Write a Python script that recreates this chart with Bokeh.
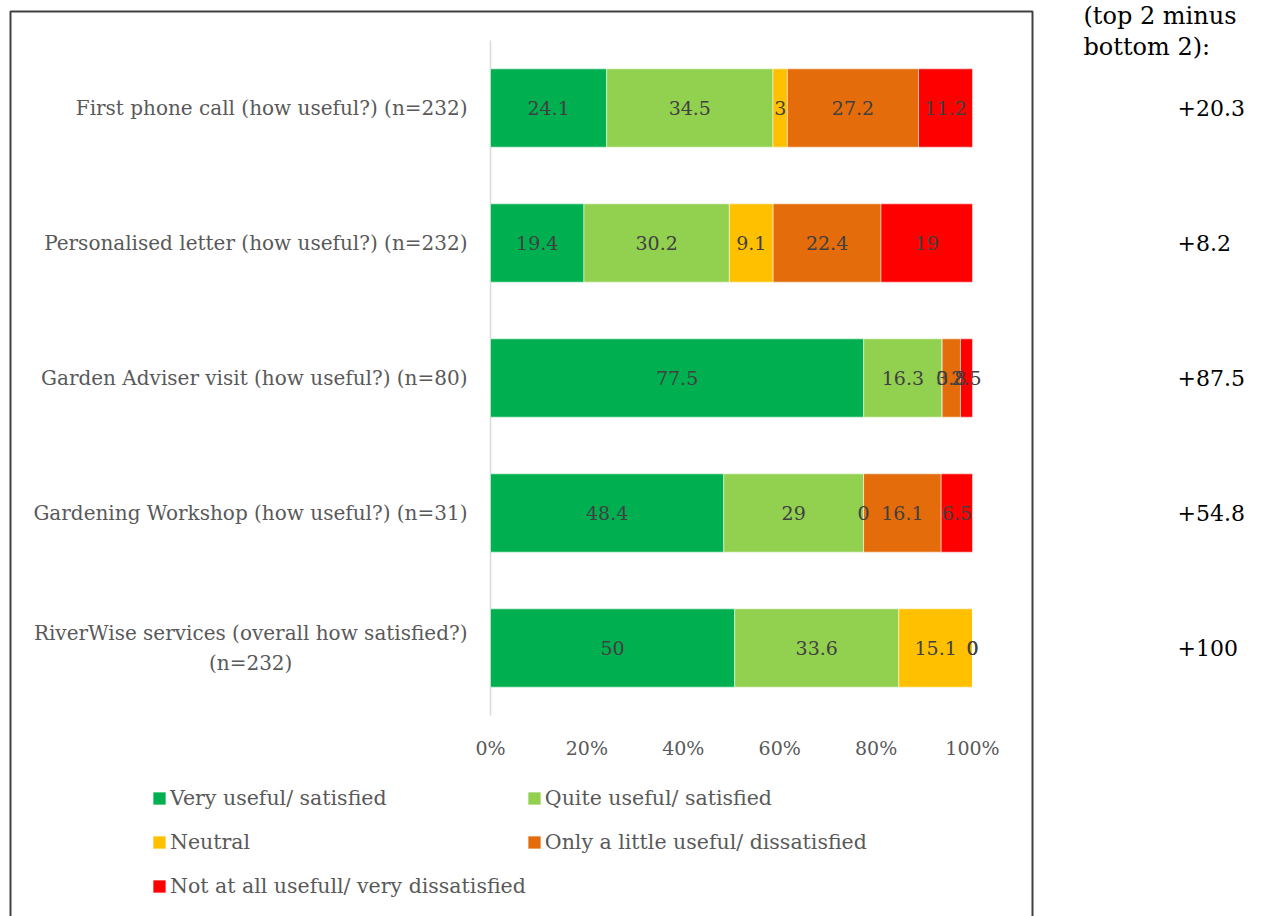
from bokeh.plotting import figure
from bokeh.models import (ColumnDataSource, Range1d, Legend, LegendItem, BoxAnnotation)
from bokeh.core.properties import value
from bokeh.embed import file_html
from bokeh.resources import INLINE

categories = [
    "First phone call (how useful?) (n=232)",
    "Personalised letter (how useful?) (n=232)",
    "Garden Adviser visit (how useful?) (n=80)",
    "Gardening Workshop (how useful?) (n=31)",
    "RiverWise services (overall how satisfied?)\n(n=232)",
]
series_names = [
    "Very useful/ satisfied",
    "Quite useful/ satisfied",
    "Neutral",
    "Only a little useful/ dissatisfied",
    "Not at all usefull/ very dissatisfied",
]
very = [24.1, 19.4, 77.5, 48.4, 50]
quite = [34.5, 30.2, 16.3, 29, 33.6]
neutral = [3, 9.1, 0, 0, 15.1]
little = [27.2, 22.4, 3.8, 16.1, 0]
notatall = [11.2, 19, 2.5, 6.5, 0]
net_scores = ["+20.3", "+8.2", "+87.5", "+54.8", "+100"]
header_lines = ["(top 2 minus", "bottom 2):"]
tick_values = [0, 0.2, 0.4, 0.6, 0.8, 1.0]

colors = ["#00B050", "#92D050", "#FFC000", "#E46C0A", "#FF0000"]
FONT = "DejaVu Serif"
GRAY = "#595959"

W, H = 1282, 916
# pixel geometry of the plotting area inside the canvas
X0, X1 = 490, 972          # 0% and 100%
Y0, ROW = 40, 135          # top of plot area, row pitch


def dx(px):
    return (px - X0) / (X1 - X0)


def dy(py):
    return (py - Y0) / ROW


series = [very, quite, neutral, little, notatall]
n = len(categories)
ypos = [i + 0.5 for i in range(n)]
totals = [sum(s[i] for s in series) for i in range(n)]

data = {"y": ypos}
keys = ["s0", "s1", "s2", "s3", "s4"]
for k, s in zip(keys, series):
    data[k] = [v / t for v, t in zip(s, totals)]
source = ColumnDataSource(data)

p = figure(width=W, height=H, output_backend="svg", toolbar_location=None,
           x_range=Range1d(dx(0), dx(W)), y_range=Range1d(dy(H), dy(0)),
           min_border=0)
p.xaxis.visible = False
p.yaxis.visible = False
p.outline_line_color = None
p.xgrid.visible = False
p.ygrid.visible = False
p.background_fill_color = "white"
p.border_fill_color = "white"

# outer frame box
p.add_layout(BoxAnnotation(left=dx(10), right=dx(1032), top=dy(11), bottom=dy(H + 30),
                           fill_alpha=0, line_color="#404040", line_alpha=1.0,
                           line_width=2))

# category axis line
p.segment(x0=[0], y0=[0], x1=[0], y1=[n], line_color="#D9D9D9", line_width=1.5)

renderers = p.hbar_stack(keys, y="y", height=0.58, source=source, color=colors,
                         line_color="white", line_width=0.5)

# segment labels
lx, ly, lt = [], [], []
for i in range(n):
    left = 0.0
    for s in series:
        w = s[i] / totals[i]
        lx.append(left + w / 2)
        ly.append(ypos[i])
        lt.append("{:g}".format(s[i]))
        left += w
p.text(x=lx, y=ly, text=lt, text_align="center", text_baseline="middle",
       text_font=value(FONT), text_font_size="19px", text_color="#404040")

# category labels (left)
p.text(x=[dx(467)] * n, y=ypos, text=categories, anchor="center_right",
       text_align="center", text_baseline="middle", text_line_height=1.25,
       text_font=value(FONT), text_font_size="20px", text_color=GRAY)

# x tick labels
p.text(x=tick_values, y=[dy(747)] * len(tick_values),
       text=["{:.0%}".format(t) for t in tick_values],
       text_align="center", text_baseline="middle",
       text_font=value(FONT), text_font_size="19px", text_color=GRAY)

# legend (column-major order so rows read: Very/Quite, Neutral/Only, Not)
order = [0, 2, 4, 1, 3]
items = [LegendItem(label=series_names[j], renderers=[renderers[j]]) for j in order]
legend = Legend(items=items, ncols=2, location=(151, H - 908),
                glyph_width=16, glyph_height=16, label_height=44, spacing=0,
                label_standoff=3, padding=0, margin=0,
                label_text_font=FONT, label_text_font_size="20.5px",
                label_text_color=GRAY, border_line_color=None,
                background_fill_alpha=0)
p.add_layout(legend, "center")

# right-hand notes
p.text(x=[dx(1083)] * len(header_lines),
       y=[dy(15 + 31 * k) for k in range(len(header_lines))],
       text=header_lines, text_align="left", text_baseline="middle",
       text_font=value(FONT), text_font_size="24px", text_color="black")
p.text(x=[dx(1177)] * n, y=ypos, text=net_scores, text_align="left",
       text_baseline="middle", text_font=value(FONT), text_font_size="22px",
       text_color="black")

open("out.html", "w").write(file_html(p, INLINE))
